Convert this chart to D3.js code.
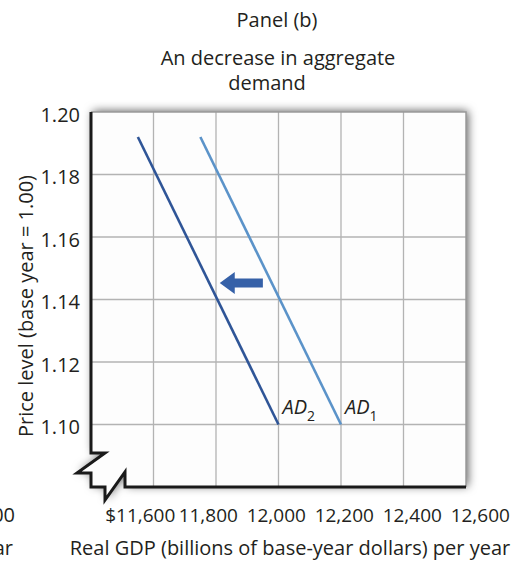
<!DOCTYPE html>
<html>
<head>
<meta charset="utf-8">
<script src="https://cdn.jsdelivr.net/npm/d3@7"></script>
<style>
  body { margin: 0; background: #fff; }
  #chart { width: 512px; height: 561px; }
</style>
</head>
<body>
<div id="chart"></div>
<script>
var FONT = '"Open Sans", "Noto Sans", sans-serif';
var TEXT = '#231f20';

// data
var xDomain = [11400, 12600];
var yDomain = [1.08, 1.20];
var xTicks = [11600, 11800, 12000, 12200, 12400, 12600];
var yTicks = [1.10, 1.12, 1.14, 1.16, 1.18, 1.20];
var ad1 = [{ x: 11750, y: 1.192 }, { x: 12200, y: 1.10 }];
var ad2 = [{ x: 11550, y: 1.192 }, { x: 12000, y: 1.10 }];
var shiftArrow = [{ x: 11950, y: 1.1453 }, { x: 11812, y: 1.1453 }];
var titleLines = ['Panel (b)', 'An decrease in aggregate', 'demand'];
var leftoverLabels = ['00', 'ar'];

(function() {
  var w = 512, h = 561;
  var margin = { top: 112, right: 46, bottom: 74, left: 91 };
  var iw = w - margin.left - margin.right;
  var ih = h - margin.top - margin.bottom;

  var svg = d3.select('#chart').append('svg').attr('width', w).attr('height', h);

  var defs = svg.append('defs');
  var f = defs.append('filter').attr('id', 'shadow').attr('x', '-20%').attr('y', '-20%').attr('width', '140%').attr('height', '140%');
  f.append('feDropShadow').attr('dx', 2).attr('dy', -1).attr('stdDeviation', 5)
    .attr('flood-color', '#000').attr('flood-opacity', 0.65);

  var g = svg.append('g').attr('transform', 'translate(' + margin.left + ',' + margin.top + ')');

  var xScale = d3.scaleLinear().domain(xDomain).range([0, iw]);
  var yScale = d3.scaleLinear().domain(yDomain).range([ih, 0]);

  // frame with broken-axis zigzags
  var x0 = xScale(xDomain[0]), y0 = yScale(yDomain[0]);
  var outline = d3.path();
  outline.moveTo(x0, 0);
  outline.lineTo(iw, 0);
  outline.lineTo(iw, y0);
  outline.lineTo(x0 + 34, y0);
  outline.lineTo(x0 + 34, y0 - 15);
  outline.lineTo(x0 + 14, y0 + 13);
  outline.lineTo(x0 + 14, y0);
  outline.lineTo(x0, y0);
  outline.lineTo(x0, y0 - 14);
  outline.lineTo(x0 - 14, y0 - 14);
  outline.lineTo(x0 + 14, y0 - 34);
  outline.lineTo(x0, y0 - 34);
  outline.closePath();
  g.append('path').attr('d', outline.toString()).attr('fill', '#fdfdfd').attr('filter', 'url(#shadow)');

  // grid
  g.append('g').selectAll('line').data(xTicks.filter(function(d) { return d < xDomain[1]; })).join('line')
    .attr('x1', function(d) { return xScale(d); }).attr('x2', function(d) { return xScale(d); })
    .attr('y1', 0).attr('y2', ih)
    .attr('stroke', '#b3b3b3').attr('stroke-width', 1.3);
  g.append('g').selectAll('line').data(yTicks.filter(function(d) { return d < yDomain[1]; })).join('line')
    .attr('x1', 0).attr('x2', iw)
    .attr('y1', function(d) { return yScale(d); }).attr('y2', function(d) { return yScale(d); })
    .attr('stroke', '#b3b3b3').attr('stroke-width', 1.3);

  // top / right edges
  g.append('path').attr('d', 'M' + x0 + ',0H' + iw + 'V' + y0)
    .attr('fill', 'none').attr('stroke', '#9a9a9a').attr('stroke-width', 1.5);

  // left / bottom axes with zigzags
  var axisPath = d3.path();
  axisPath.moveTo(x0, 0);
  axisPath.lineTo(x0, y0 - 34);
  axisPath.lineTo(x0 + 14, y0 - 34);
  axisPath.lineTo(x0 - 14, y0 - 14);
  axisPath.lineTo(x0, y0 - 14);
  axisPath.lineTo(x0, y0);
  axisPath.lineTo(x0 + 14, y0);
  axisPath.lineTo(x0 + 14, y0 + 13);
  axisPath.lineTo(x0 + 34, y0 - 15);
  axisPath.lineTo(x0 + 34, y0);
  axisPath.lineTo(iw, y0);
  g.append('path').attr('d', axisPath.toString())
    .attr('fill', 'none').attr('stroke', '#1a1a1a').attr('stroke-width', 3).attr('stroke-linejoin', 'miter');

  // tick labels
  var fmtX = d3.format(',');
  g.append('g').attr('transform', 'translate(0,' + ih + ')')
    .call(d3.axisBottom(xScale).tickValues(xTicks).tickSize(0).tickPadding(0)
      .tickFormat(function(d, i) { return (i === 0 ? '$' : '') + fmtX(d); }))
    .call(function(a) { a.select('.domain').remove(); })
    .call(function(a) {
      a.selectAll('.tick text').attr('fill', TEXT).attr('font-size', '19px').attr('font-family', FONT)
        .attr('y', 35).attr('dy', 0)
        .attr('dx', function(d) { return (d - 12100) / 200 * 5.5; });
    });

  g.append('g')
    .call(d3.axisLeft(yScale).tickValues(yTicks).tickSize(0).tickPadding(11).tickFormat(d3.format('.2f')))
    .call(function(a) { a.select('.domain').remove(); })
    .call(function(a) {
      a.selectAll('.tick text').attr('fill', TEXT).attr('font-size', '20px').attr('font-family', FONT)
        .attr('dy', '0.45em');
    });

  // curves
  var line = d3.line().x(function(d) { return xScale(d.x); }).y(function(d) { return yScale(d.y); });
  g.append('path').datum(ad2).attr('d', line).attr('fill', 'none').attr('stroke', '#2f5597').attr('stroke-width', 2.6);
  g.append('path').datum(ad1).attr('d', line).attr('fill', 'none').attr('stroke', '#5b93c9').attr('stroke-width', 2.6);

  // curve labels
  function adLabel(pt, sub) {
    var t = g.append('text').attr('x', xScale(pt.x) + 4).attr('y', yScale(pt.y) - 11)
      .attr('fill', TEXT).attr('font-size', '20px').attr('font-family', FONT).attr('font-style', 'italic');
    t.append('tspan').text('AD');
    t.append('tspan').attr('font-size', '14px').attr('font-style', 'normal').attr('dy', 7).text(sub);
  }
  adLabel(ad2[1], '2');
  adLabel(ad1[1], '1');

  // shift arrow
  var ax1 = xScale(shiftArrow[0].x), ax2 = xScale(shiftArrow[1].x), ay = yScale(shiftArrow[0].y);
  var headLen = 15, bodyHalf = 4.5, headHalf = 11;
  var arrow = d3.path();
  arrow.moveTo(ax1, ay - bodyHalf);
  arrow.lineTo(ax2 + headLen, ay - bodyHalf);
  arrow.lineTo(ax2 + headLen, ay - headHalf);
  arrow.lineTo(ax2, ay);
  arrow.lineTo(ax2 + headLen, ay + headHalf);
  arrow.lineTo(ax2 + headLen, ay + bodyHalf);
  arrow.lineTo(ax1, ay + bodyHalf);
  arrow.closePath();
  g.append('path').attr('d', arrow.toString()).attr('fill', '#3661a8');

  // titles
  var titleY = [27, 65, 90], titleX = [277, 278, 267];
  titleLines.forEach(function(s, i) {
    svg.append('text').attr('x', titleX[i]).attr('y', titleY[i]).attr('text-anchor', 'middle')
      .attr('fill', TEXT).attr('font-size', '20px').attr('font-family', FONT).text(s);
  });

  // axis titles
  svg.append('text').attr('x', 290).attr('y', 555).attr('text-anchor', 'middle')
    .attr('fill', TEXT).attr('font-size', '20px').attr('font-family', FONT)
    .text('Real GDP (billions of base-year dollars) per year');
  svg.append('text').attr('transform', 'rotate(-90)').attr('x', -306).attr('y', 33)
    .attr('text-anchor', 'middle').attr('fill', TEXT).attr('font-size', '20px').attr('font-family', FONT)
    .text('Price level (base year = 1.00)');

  // leftover glyphs from the neighbouring panel, visible at the left edge
  svg.append('text').attr('x', 15).attr('y', 522).attr('text-anchor', 'end')
    .attr('fill', TEXT).attr('font-size', '20px').attr('font-family', FONT).text(leftoverLabels[0]);
  svg.append('text').attr('x', 13).attr('y', 555).attr('text-anchor', 'end')
    .attr('fill', TEXT).attr('font-size', '20px').attr('font-family', FONT).text(leftoverLabels[1]);
})();
</script>
</body>
</html>
